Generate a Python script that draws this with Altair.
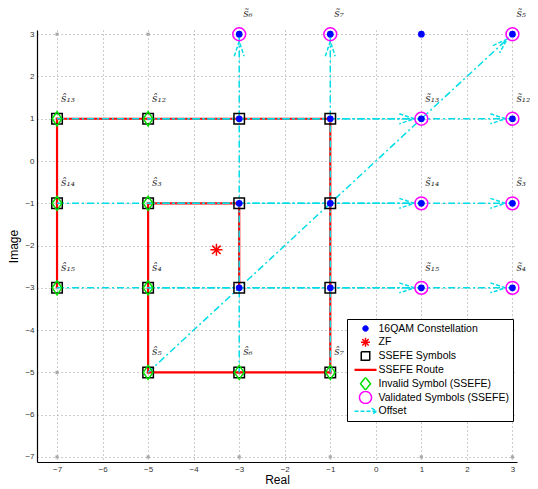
import math
import altair as alt
import pandas as pd

# ---------------- data ----------------
lattice = [-7, -5, -3, -1, 1, 3]          # extended lattice (grey dots)
qam_levels = [-3, -1, 1, 3]               # 16QAM constellation levels
zf_re = [-3.5]
zf_im = [-2.1]
ssefe_re = [-7, -5, -3, -1, -7, -5, -3, -1, -7, -5, -3, -1, -5, -3, -1]
ssefe_im = [1, 1, 1, 1, -1, -1, -1, -1, -3, -3, -3, -3, -5, -5, -5]
route_re = [-3, -3, -5, -5, -1, -1, -7, -7]
route_im = [-3, -1, -1, -5, -5, 1, 1, -3]
sym_idx = [13, 12, 14, 3, 15, 4, 5, 6, 7]
invalid_re = [-7, -5, -7, -5, -7, -5, -5, -3, -1]
invalid_im = [1, 1, -1, -1, -3, -3, -5, -5, -5]
valid_re = [1, 3, 1, 3, 1, 3, 3, -3, -1]
valid_im = [1, 1, -1, -1, -3, -3, 3, 3, 3]
tick_values = list(range(-7, 4))

series = ["16QAM Constellation", "ZF", "SSEFE Symbols", "SSEFE Route",
          "Invalid Symbol (SSEFE)", "Validated Symbols (SSEFE)", "Offset"]

# ---------------- styles ----------------
colors = ["#0000ff", "#ff0000", "#000000", "#ff0000", "#00e000", "#ff00ff", "#00dde6"]
BLUE, RED, BLACK, GREEN, MAGENTA, CYAN = colors[0], colors[1], colors[2], colors[4], colors[5], colors[6]
AST = "M0,-1L0,1M-1,0L1,0M-0.7,-0.7L0.7,0.7M-0.7,0.7L0.7,-0.7"
DIAM = "M0,-1L0.68,0L0,1L-0.68,0Z"
HEAD = "M-1.47,-0.33L-0.47,0L-1.47,0.33"
DASH = [7, 3, 2, 3]


def circ(r):
    return f"M{r},0A{r},{r} 0 1,1 -{r},0A{r},{r} 0 1,1 {r},0Z"


# legend symbols (unit = 5px with symbolSize 100)
leg_shapes = [circ(0.55),
              "M0,-0.9L0,0.9M-0.9,0L0.9,0M-0.64,-0.64L0.64,0.64M-0.64,0.64L0.64,-0.64",
              "M-0.85,-0.85L0.85,-0.85L0.85,0.85L-0.85,0.85Z",
              "M-2.2,0L2.2,0",
              "M0,-1.27L1,0L0,1.27L-1,0Z",
              circ(1.2),
              "M-2.2,0L2.2,0M1.2,-0.65L2.2,0L1.2,0.65"]
leg_fills = [BLUE] + ["transparent"] * 6
leg_sw = [1, 1.5, 1.5, 2.2, 1.5, 1.5, 1.5]
leg_dash = ["[1,0]"] * 6 + ["[4,2]"]

W, H = 480, 432
XDOM = [-7.44, 3.1]
YDOM = [-7.12, 3.1]
kx = W / (XDOM[1] - XDOM[0])
ky = H / (YDOM[1] - YDOM[0])

SUB = str.maketrans("0123456789", "₀₁₂₃₄₅₆₇₈₉")

# ---------------- tables ----------------
grey = pd.DataFrame([(a, b) for a in lattice for b in lattice], columns=["re", "im"])
qam = pd.DataFrame([(a, b) for a in qam_levels for b in qam_levels], columns=["re", "im"])
zf = pd.DataFrame({"re": zf_re, "im": zf_im})
sq = pd.DataFrame({"re": ssefe_re, "im": ssefe_im})
route = pd.DataFrame({"re": route_re, "im": route_im, "step": range(len(route_re)),
                      "series": series[3]})
inv = pd.DataFrame({"re": invalid_re, "im": invalid_im})
val = pd.DataFrame({"re": valid_re, "im": valid_im})

off_rows = []
head_rows = []
for k, (x0, y0, x1, y1) in enumerate(zip(invalid_re, invalid_im, valid_re, valid_im)):
    off_rows.append({"re": x0, "im": y0, "pair": k, "end": 0})
    off_rows.append({"re": x1, "im": y1, "pair": k, "end": 1})
    ang = math.degrees(math.atan2(-(y1 - y0) * ky, (x1 - x0) * kx)) % 360
    head_rows.append({"re": x1, "im": y1, "ang": ang})
off = pd.DataFrame(off_rows)
heads = pd.DataFrame(head_rows)

hat_lab = pd.DataFrame({"re": invalid_re, "im": invalid_im,
                        "t": ["s\u0302" + str(i).translate(SUB) for i in sym_idx]})
til_lab = pd.DataFrame({"re": valid_re, "im": valid_im,
                        "t": ["s\u0303" + str(i).translate(SUB) for i in sym_idx]})

# ---------------- encodings ----------------
xs = alt.Scale(domain=XDOM, nice=False, zero=False)
ys = alt.Scale(domain=YDOM, nice=False, zero=False)
xax = alt.Axis(values=tick_values, format="d", title="Real")
yax = alt.Axis(values=tick_values, format="d", title="Image")
X = alt.X("re:Q", scale=xs, axis=xax)
Y = alt.Y("im:Q", scale=ys, axis=yax)


def pick(vals, quote=True):
    q = (lambda v: f"'{v}'") if quote else str
    expr = q(vals[-1])
    for s, v in reversed(list(zip(series[:-1], vals[:-1]))):
        expr = f"(datum.value === '{s}' ? {q(v)} : {expr})"
    return alt.ExprRef(expr=expr)


legend = alt.Legend(
    title=None, orient="none", legendX=310, legendY=289,
    fillColor="white", strokeColor="black", padding=3,
    labelFont="Liberation Sans", labelFontSize=10.5, labelColor="black",
    symbolSize=100, symbolOffset=9.5, labelOffset=7, rowPadding=0.8,
    clipHeight=13,
    symbolOpacity=1,
    symbolType=pick(leg_shapes),
    symbolFillColor=pick(leg_fills),
    symbolStrokeWidth=pick(leg_sw, quote=False),
    symbolDash=pick(leg_dash, quote=False),
)
C = alt.Color("series:N", scale=alt.Scale(domain=series, range=colors), legend=legend)

# ---------------- layers ----------------
l_grey = alt.Chart(grey).mark_point(filled=True, shape="square", size=10, color="#aaaaaa",
                                    opacity=1).encode(x=X, y=Y)
l_route = alt.Chart(route).mark_line(strokeWidth=2.2).encode(x=X, y=Y, color=C,
                                                              order="step:Q")
l_off = alt.Chart(off).mark_line(strokeWidth=1.5, strokeDash=DASH, color=CYAN).encode(
    x=X, y=Y, detail="pair:N", order="end:Q")
l_head = alt.Chart(heads).mark_point(shape=HEAD, size=900, filled=False, strokeWidth=1.5,
                                     strokeDash=[4, 2], opacity=1, color=CYAN).encode(
    x=X, y=Y, angle=alt.Angle("ang:Q", scale=None))
l_sq = alt.Chart(sq).mark_point(shape="square", size=110, filled=False, strokeWidth=1.5,
                                opacity=1, color=BLACK).encode(x=X, y=Y)
l_inv = alt.Chart(inv).mark_point(shape=DIAM, size=200, filled=False, strokeWidth=1.5,
                                  opacity=1, color=GREEN).encode(x=X, y=Y)
l_val = alt.Chart(val).mark_point(shape="circle", size=165, filled=False, strokeWidth=1.5,
                                  opacity=1, color=MAGENTA).encode(x=X, y=Y)
l_qam = alt.Chart(qam).mark_point(shape="circle", size=45, filled=True, opacity=1,
                                  color=BLUE).encode(x=X, y=Y)
l_zf = alt.Chart(zf).mark_point(shape=AST, size=144, filled=False, strokeWidth=1.5,
                                opacity=1, color=RED).encode(x=X, y=Y)
txt = dict(align="left", baseline="middle", dx=4, dy=-20, font="DejaVu Serif",
           fontStyle="italic", fontSize=10.5, color="#333333")
l_hat = alt.Chart(hat_lab).mark_text(**txt).encode(x=X, y=Y, text="t:N")
l_til = alt.Chart(til_lab).mark_text(**txt).encode(x=X, y=Y, text="t:N")

chart = alt.layer(l_grey, l_route, l_off, l_head, l_sq, l_inv, l_val, l_qam, l_zf,
                  l_hat, l_til).properties(
    width=W, height=H,
    autosize=alt.AutoSizeParams(type="none"),
    padding={"left": 29, "top": 22, "right": 13, "bottom": 27},
    background="white",
).configure_view(stroke=None).configure_axis(
    grid=True, gridColor="#9a9a9a", gridDash=[1, 3], gridWidth=1,
    ticks=False, domainColor="black", domainWidth=1.2,
    labelFont="Liberation Sans", labelFontSize=8, labelColor="#333333", labelPadding=3,
    titleFont="Liberation Sans", titleFontSize=12, titleFontWeight="normal",
    titleColor="black",
).configure_axisX(titlePadding=1).configure_axisY(titlePadding=4)

chart.save("out.html", embed_options={"renderer": "svg", "actions": False})
